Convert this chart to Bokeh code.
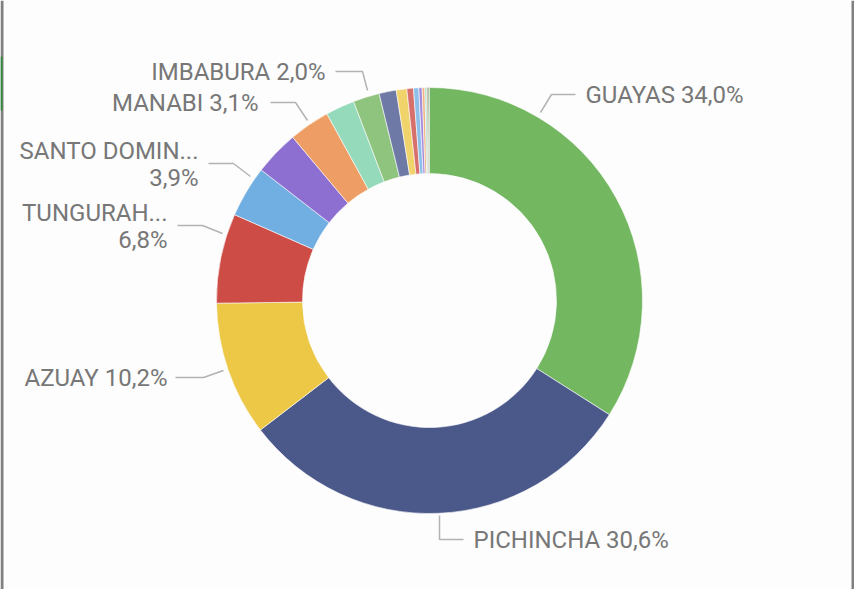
import numpy as np
from bokeh.plotting import figure
from bokeh.models import ColumnDataSource
from bokeh.core.properties import value
from bokeh.embed import file_html
from bokeh.resources import INLINE

# ---- data (share of total, %) clockwise from 12 o'clock ----
provinces = ["GUAYAS", "PICHINCHA", "AZUAY", "TUNGURAHUA", "SANTO DOMINGO DE LOS TSACHILAS",
             "EL ORO", "MANABI", "LOJA", "IMBABURA", "CHIMBORAZO", "COTOPAXI", "LOS RIOS",
             "ESMERALDAS", "CAÑAR", "CARCHI", "SANTA ELENA", "SUCUMBIOS", "ORELLANA"]
shares = [34.0, 30.6, 10.2, 6.8, 3.9, 3.4, 3.1, 2.2, 2.0, 1.3, 0.8, 0.5, 0.4, 0.25, 0.2, 0.15, 0.1, 0.1]
colors = ["#73B761", "#4A588A", "#ECC846", "#CD4C46", "#71AFE2", "#8D6FD1", "#EE9E64", "#95DABB",
          "#8FC47E", "#6E7AA5", "#F0D36B", "#D7706B", "#8DBFE8", "#A48CDA", "#F1B183", "#AAE1C9",
          "#9C8A6E", "#5C8F4F"]

# labels shown (index into provinces, display lines)
label_idx = [0, 1, 2, 3, 4, 6, 8]
label_names = ["GUAYAS", "PICHINCHA", "AZUAY", "TUNGURAH...", "SANTO DOMIN...", "MANABI", "IMBABURA"]
label_two_lines = [False, False, False, True, True, False, False]

# ---- layout (page pixel coordinates of the reference) ----
W, H = 854, 589
CX, CY, R_OUT, R_IN = 429, 300, 213, 127
label_pos = [(585, 94, "left"), (473, 539, "left"), (167, 377, "right"), (167, 212, "right"),
             (198, 150, "right"), (258, 102, "right"), (325, 71, "right")]
leaders = [[(540, 112), (551, 94), (575, 94)],
           [(439, 515), (439, 539), (463, 539)],
           [(223, 370), (203, 377), (175, 377)],
           [(222, 233), (202, 225), (177, 225)],
           [(250, 176), (233, 163), (208, 163)],
           [(307, 120), (295, 102), (270, 102)],
           [(367, 90), (362, 71), (335, 71)]]
LINE_GAP = 27
BG = "#FDFDFD"


def fx(x):
    return x


def fy(y):
    return H - y


vals = np.array(shares, dtype=float)
frac = vals / vals.sum()
cum = np.concatenate([[0.0], np.cumsum(frac)]) * 2 * np.pi
start = np.pi / 2 - cum[1:]
end = np.pi / 2 - cum[:-1]

src = ColumnDataSource(dict(name=provinces, share=shares, color=colors,
                            start=start, end=end))

p = figure(width=W, height=H, x_range=(0, W), y_range=(0, H),
           output_backend="svg", toolbar_location=None, min_border=0,
           background_fill_color=BG, border_fill_color=BG)
p.axis.visible = False
p.grid.visible = False
p.outline_line_color = None

# frame borders of the visual container
p.quad(left=[0, 851], right=[3, 854], bottom=[0, 0], top=[H, H],
       fill_color="#808080", line_color=None)
p.quad(left=[0], right=[2], bottom=[fy(110)], top=[fy(56)],
       fill_color="#2E8B3E", line_color=None)

p.annular_wedge(x=fx(CX), y=fy(CY), inner_radius=R_IN, outer_radius=R_OUT,
                start_angle="start", end_angle="end", direction="anticlock",
                fill_color="color", line_color=BG, line_width=0.6, source=src)

# leader lines
p.multi_line(xs=[[fx(x) for x, _ in l] for l in leaders],
             ys=[[fy(y) for _, y in l] for l in leaders],
             line_color="#B3B3B3", line_width=1.5)

font = value("Roboto")
for k, i in enumerate(label_idx):
    pct = f"{shares[i]:.1f}%".replace(".", ",")
    x, y, align = label_pos[k]
    if label_two_lines[k]:
        texts = [label_names[k], pct]
        ys = [fy(y), fy(y + LINE_GAP)]
    else:
        texts = [f"{label_names[k]} {pct}"]
        ys = [fy(y)]
    p.text(x=[fx(x)] * len(texts), y=ys, text=texts, text_align=align,
           text_baseline="middle", text_font=font, text_font_size="24px",
           text_color="#777777")

open("out.html", "w").write(file_html(p, INLINE))
